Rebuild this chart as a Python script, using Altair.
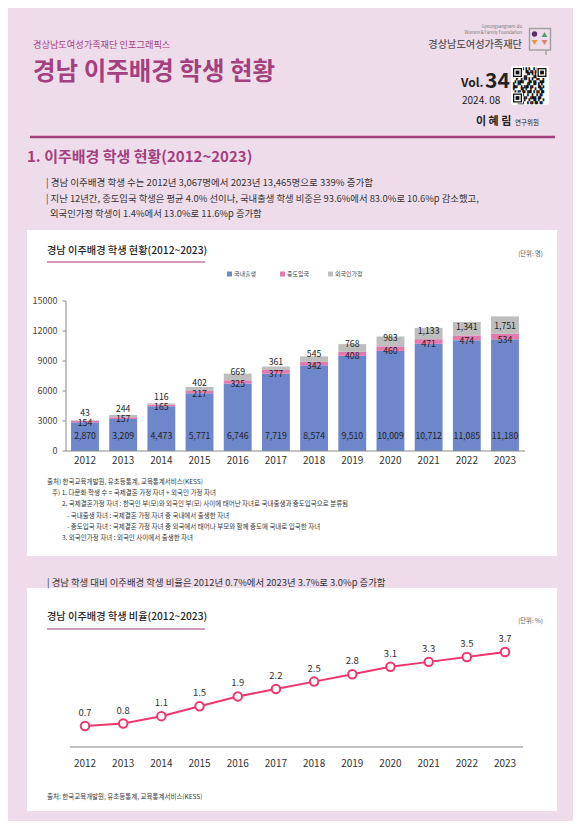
import altair as alt
import pandas as pd

# ---------------- data ----------------
years = [2012, 2013, 2014, 2015, 2016, 2017, 2018, 2019, 2020, 2021, 2022, 2023]
domestic = [2870, 3209, 4473, 5771, 6746, 7719, 8574, 9510, 10009, 10712, 11085, 11180]
midentry = [154, 157, 165, 217, 325, 377, 342, 408, 460, 471, 474, 534]
foreign = [43, 244, 116, 402, 669, 361, 545, 768, 983, 1133, 1341, 1751]
ratio = [0.7, 0.8, 1.1, 1.5, 1.9, 2.2, 2.5, 2.8, 3.1, 3.3, 3.5, 3.7]
y_ticks = [0, 3000, 6000, 9000, 12000, 15000]
categories = ["국내출생", "중도입국", "외국인가정"]
cat_colors = ["#6E87CB", "#E27AAE", "#BEBEBE"]

notes = [
    "출처) 한국교육개발원, 유초등통계, 교육통계서비스(KESS)",
    "주) 1. 다문화 학생 수 = 국제결혼 가정 자녀 + 외국인 가정 자녀",
    "2. 국제결혼가정 자녀 : 한국인 부(모)와 외국인 부(모) 사이에 태어난 자녀로 국내출생과 중도입국으로 분류됨",
    "- 국내출생 자녀 : 국제결혼 가정 자녀 중 국내에서 출생한 자녀",
    "- 중도입국 자녀 : 국제결혼 가정 자녀 중 외국에서 태어나 부모와 함께 중도에 국내로 입국한 자녀",
    "3. 외국인가정 자녀 : 외국인 사이에서 출생한 자녀",
]

# ---------------- style ----------------
FONT = "Noto Sans CJK KR"
W, H = 565, 813
OX = OY = 8
BG = "#EEDCEA"
PLUM = "#A3407E"
TXT = "#333333"
LINE_C = "#F0356C"
AXIS_C = "#8A8A8A"


def px(x):
    return x - OX


def py(y):
    return y - OY


one = alt.Data(values=[{"a": 1}])


def text(s, x, y, size, color=TXT, weight="normal", align="left",
         baseline="middle", font=FONT, **kw):
    return alt.Chart(one).mark_text(
        text=s, fontSize=size, color=color, fontWeight=weight, align=align,
        baseline=baseline, font=font, **kw
    ).encode(x=alt.value(px(x)), y=alt.value(py(y)))


def rect(x0, y0, x1, y1, color, **kw):
    return alt.Chart(one).mark_rect(color=color, **kw).encode(
        x=alt.value(px(x0)), x2=alt.value(px(x1)),
        y=alt.value(py(y0)), y2=alt.value(py(y1)))


def rule(x0, y0, x1, y1, color, width=1):
    return alt.Chart(one).mark_rule(color=color, strokeWidth=width).encode(
        x=alt.value(px(x0)), x2=alt.value(px(x1)),
        y=alt.value(py(y0)), y2=alt.value(py(y1)))


def pt(x, y, shape, size, color):
    return alt.Chart(one).mark_point(shape=shape, size=size, filled=True,
                                     color=color, opacity=1).encode(
        x=alt.value(px(x)), y=alt.value(py(y)))


deco = []
# white panels
deco.append(rect(27, 230, 557, 556, "white"))
deco.append(rect(27, 588, 557, 811, "white"))

# header
deco.append(text("경상남도여성가족재단 인포그래픽스", 33, 45, 9.2, PLUM))
deco.append(text("경남 이주배경 학생 현황", 33, 73, 24.5, PLUM, weight="bold"))
deco.append(text("Gyeongsangnam-do", 522, 27, 4.3, "#777777", align="right"))
deco.append(text("Women & Family Foundation", 522, 33, 4.3, "#777777", align="right"))
deco.append(text("경상남도여성가족재단", 522, 45, 10.2, "#555555", align="right", weight=500))
# logo
deco.append(rect(529.5, 28.5, 550.5, 50, "white", fillOpacity=0, stroke="#A0A0A0", strokeWidth=1.4))
deco.append(rule(546, 50, 546, 55, "#A0A0A0", 1.4))
deco.append(pt(534.5, 34, "circle", 28, "#5E2A6B"))
deco.append(pt(544.5, 34.5, "triangle-up", 34, "#4E9F6B"))
deco.append(pt(534.5, 42.5, "triangle-down", 34, "#E8963A"))
deco.append(pt(544.5, 42.5, "triangle-down", 34, "#D9826E"))

# vol / qr
deco.append(text("Vol.", 461, 87, 12, "#222222", weight="bold", baseline="alphabetic"))
deco.append(text("34", 485, 88, 21, "#222222", weight="bold", baseline="alphabetic"))
deco.append(text("2024. 08", 462, 101, 10, "#222222"))
deco.append(rect(511, 66, 549, 105, "white", cornerRadius=2))
qr_rows = [
    "▚▞▗▘▙▚▞▟▖▚",
    "▞▙▚▗▞▘▚▙▞▗",
    "▗▚▟▞▘▙▚▞▚▟",
    "▙▞▚▗▟▚▞▘▙▚",
    "▚▗▞▙▚▟▗▚▞▙",
    "▞▟▘▚▞▗▙▞▟▘",
    "▘▚▙▞▗▚▞▙▚▞",
]
deco.append(alt.Chart(one).mark_text(
    text=qr_rows, font="DejaVu Sans Mono", fontSize=5.2, lineHeight=5.1,
    align="left", baseline="top", color="#111111").encode(
    x=alt.value(px(513)), y=alt.value(py(68))))
for fx, fy in [(513, 68), (537.5, 68), (513, 93.5)]:
    deco.append(rect(fx - 1, fy - 1, fx + 10, fy + 10, "white"))
    deco.append(rect(fx, fy, fx + 9, fy + 9, "#111111"))
    deco.append(rect(fx + 1.3, fy + 1.3, fx + 7.7, fy + 7.7, "white"))
    deco.append(rect(fx + 2.6, fy + 2.6, fx + 6.4, fy + 6.4, "#111111"))

deco.append(text("이 혜 림", 476, 122, 11, "#222222", weight="bold"))
deco.append(text("연구위원", 515, 123, 6.5, "#222222"))
deco.append(rule(30, 137, 555, 137, PLUM, 2.5))

# section 1 heading + bullets
deco.append(text("1. 이주배경 학생 현황(2012~2023)", 27, 157, 15, PLUM, weight="bold"))
deco.append(text("| 경남 이주배경 학생 수는 2012년 3,067명에서 2023년 13,465명으로 339% 증가함", 46, 183, 9.5))
deco.append(text("| 지난 12년간, 중도입국 학생은 평균 4.0% 선이나, 국내출생 학생 비중은 93.6%에서 83.0%로 10.6%p 감소했고,", 46, 199, 9.35))
deco.append(text("외국인가정 학생이 1.4%에서 13.0%로 11.6%p 증가함", 50, 214, 9.35))

# panel 1 title, unit, legend
deco.append(text("경남 이주배경 학생 현황(2012~2023)", 47, 251, 10.2, "#222222", weight=500))
deco.append(rule(47, 262, 205, 262, "#C07AAB", 1.6))
deco.append(text("(단위: 명)", 543, 254, 6.3, "#555555", align="right"))
leg_x = [227, 280, 328]
for lx, cat, col in zip(leg_x, categories, cat_colors):
    deco.append(rect(lx, 271.5, lx + 5, 276.5, col))
    deco.append(text(cat, lx + 7, 274, 6, "#444444"))

# notes
note_pos = [(47, 482), (52, 493.2), (62, 504.4), (67, 515.6), (67, 526.8), (62, 538)]
for s, (nx, ny) in zip(notes, note_pos):
    deco.append(text(s, nx, ny, 6.5, "#333333"))

# section 2
deco.append(text("| 경남 학생 대비 이주배경 학생 비율은 2012년 0.7%에서 2023년 3.7%로 3.0%p 증가함", 47, 583, 9.4))
deco.append(text("경남 이주배경 학생 비율(2012~2023)", 47, 617, 10.2, "#222222", weight=500))
deco.append(rule(47, 629, 205, 629, "#C07AAB", 1.6))
deco.append(text("(단위: %)", 543, 621, 6.3, "#555555", align="right"))
deco.append(text("출처: 한국교육개발원, 유초등통계, 교육통계서비스(KESS)", 47, 797, 6.5, "#333333"))

# ---------------- bar chart ----------------
rows = []
for i, yr in enumerate(years):
    for k, (cat, arr) in enumerate(zip(categories, [domestic, midentry, foreign])):
        rows.append({"year": str(yr), "cat": cat, "ord": k, "value": arr[i]})
bar_df = pd.DataFrame(rows)
year_df = pd.DataFrame({"year": [str(y) for y in years]})
tick_df = pd.DataFrame({"t": y_ticks})

x_range = [px(65.9), px(524.1)]
x_scale_bar = alt.Scale(type="band", domain=[str(y) for y in years], range=x_range,
                        paddingInner=0.27, paddingOuter=0.135)
y_scale_bar = alt.Scale(domain=[0, 15000], range=[py(451), py(301)], nice=False, zero=True)

xb = alt.X("year:O", scale=x_scale_bar, axis=None)

base = alt.Chart(bar_df).transform_stack(
    stack="value", groupby=["year"], as_=["v0", "v1"],
    sort=[alt.SortField("ord", order="ascending")]
).transform_calculate(zero="0")

bars = base.mark_bar().encode(
    x=xb,
    y=alt.Y("v0:Q", scale=y_scale_bar, axis=None),
    y2="v1:Q",
    color=alt.Color("cat:N", scale=alt.Scale(domain=categories, range=cat_colors), legend=None),
)

LAB = 8.7
# domestic labels sit near the bottom of each bar; the other two sit on the
# lower edge of their own segment
lab_dom = base.transform_filter(alt.datum.cat == categories[0]).mark_text(
    dy=-15, fontSize=LAB, color="#222222", font=FONT, baseline="middle").encode(
    x=xb, y=alt.Y("zero:Q", scale=y_scale_bar, axis=None),
    text=alt.Text("value:Q", format=","))
lab_mid = base.transform_filter(alt.datum.cat == categories[1]).mark_text(
    dy=0.5, fontSize=LAB, color="#222222", font=FONT, baseline="middle").encode(
    x=xb, y=alt.Y("v0:Q", scale=y_scale_bar, axis=None),
    text=alt.Text("value:Q", format=","))
lab_for = base.transform_filter(alt.datum.cat == categories[2]).mark_text(
    dy=-8, fontSize=LAB, color="#222222", font=FONT, baseline="middle").encode(
    x=xb, y=alt.Y("v0:Q", scale=y_scale_bar, axis=None),
    text=alt.Text("value:Q", format=","))

# axes drawn through the same scales
y_axis_line = alt.Chart(one).mark_rule(color=AXIS_C, strokeWidth=1).encode(
    x=alt.value(px(66)),
    y=alt.YDatum(0, scale=y_scale_bar, axis=None),
    y2=alt.Y2Datum(15000))
y_axis_ticks = alt.Chart(tick_df).mark_rule(color=AXIS_C, strokeWidth=1).encode(
    x=alt.value(px(62.5)), x2=alt.value(px(66)),
    y=alt.Y("t:Q", scale=y_scale_bar, axis=None))
y_axis_labels = alt.Chart(tick_df).mark_text(
    align="right", baseline="middle", fontSize=9, color="#444444", font=FONT).encode(
    x=alt.value(px(57.5)),
    y=alt.Y("t:Q", scale=y_scale_bar, axis=None),
    text=alt.Text("t:Q", format="d"))
x_axis_line = alt.Chart(one).mark_rule(color=AXIS_C, strokeWidth=1).encode(
    x=alt.value(px(66)), x2=alt.value(px(525)),
    y=alt.YDatum(0, scale=y_scale_bar, axis=None))
x_axis_labels = alt.Chart(year_df).mark_text(
    baseline="middle", fontSize=10, color=TXT, font=FONT).encode(
    x=xb, y=alt.value(py(460.5)), text="year:N")

bar_group = alt.layer(bars, lab_dom, lab_mid, lab_for,
                      y_axis_line, y_axis_ticks, y_axis_labels, x_axis_line, x_axis_labels)

# ---------------- line chart ----------------
ratio_df = pd.DataFrame({"year": [str(y) for y in years], "ratio": ratio})
x_scale_line = alt.Scale(type="band", domain=[str(y) for y in years], range=x_range,
                         paddingInner=0.27, paddingOuter=0.135)
y_scale_line = alt.Scale(domain=[0, 4], range=[py(743.3), py(644.6)], nice=False, zero=True)

xl = alt.X("year:O", scale=x_scale_line, axis=None)
y_line = alt.Y("ratio:Q", scale=y_scale_line, axis=None)

base_line = alt.Chart(one).mark_rule(color="#ABABAB", strokeWidth=1.5).encode(
    x=alt.value(px(70)), x2=alt.value(px(523)), y=alt.value(py(747)))
line = alt.Chart(ratio_df).mark_line(color=LINE_C, strokeWidth=2).encode(x=xl, y=y_line)
pts = alt.Chart(ratio_df).mark_point(shape="circle", filled=True, fill="white", stroke=LINE_C,
                                     strokeWidth=2, size=72, opacity=1).encode(x=xl, y=y_line)
plab = alt.Chart(ratio_df).mark_text(dy=-13, fontSize=9.5, color=TXT, font=FONT,
                                     baseline="middle").encode(
    x=xl, y=y_line, text=alt.Text("ratio:Q", format=".1f"))
line_xlabels = alt.Chart(year_df).mark_text(
    baseline="middle", fontSize=10, color=TXT, font=FONT).encode(
    x=xl, y=alt.value(py(764)), text="year:N")
line_group = alt.layer(base_line, line, pts, plab, line_xlabels)

chart = alt.layer(*deco, bar_group, line_group).resolve_scale(
    x="independent", y="independent"
).properties(
    width=W, height=H, autosize=alt.AutoSizeParams(type="none"), padding=0, background=BG
).configure_view(stroke=None)

chart.save("out.html", embed_options={"renderer": "svg", "actions": False})
